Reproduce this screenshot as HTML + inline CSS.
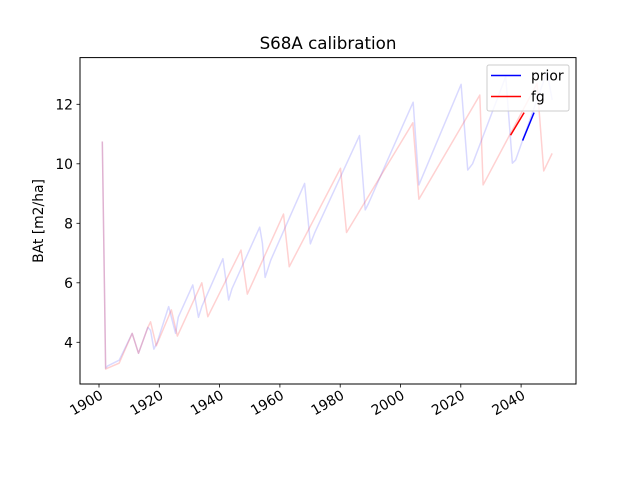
<!DOCTYPE html>
<html><head><meta charset="utf-8"><style>
body{margin:0;background:#fff;}
svg text{font-family:"DejaVu Sans","Liberation Sans",sans-serif;fill:#000;}
</style></head><body>
<svg id="chart" width="640" height="480" viewBox="0 0 640 480" xmlns="http://www.w3.org/2000/svg">
<rect width="640" height="480" fill="#fff"/>
<g id="series"></g>
<rect x="80" y="57.6" width="496" height="326.4" fill="none" stroke="#000" stroke-width="1"/>
<g id="xticks"></g><g id="yticks"></g>
<text x="328" y="49" font-size="16.7" text-anchor="middle">S68A calibration</text>
<text x="0" y="0" font-size="13.9" text-anchor="middle" transform="translate(43,221) rotate(-90)">BAt [m2/ha]</text>
<g>
<rect x="487" y="65" width="82" height="46" rx="2" fill="#fff" fill-opacity="0.8" stroke="#ccc"/>
<line x1="491" y1="75.5" x2="521" y2="75.5" stroke="#0000ff" stroke-width="1.5"/>
<text x="531" y="80.5" font-size="13.9">prior</text>
<line x1="491" y1="96.5" x2="521" y2="96.5" stroke="#ff0000" stroke-width="1.5"/>
<text x="531" y="101.5" font-size="13.9">fg</text>
</g>
</svg>
<script>
const priorYears=[1901.1,1902.2,1902.8,1906.7,1911,1913.1,1916.2,1917.1,1918.2,1919.3,1923.1,1925.4,1926.3,1931.1,1933,1934.1,1941.1,1943,1944.1,1953.3,1954.2,1955.1,1957,1968.2,1970.1,1971.5,1986.4,1988.3,1989.4,2000.6,2004.2,2006.1,2020.1,2022.3,2023.9,2034.9,2037.1,2038.2,2048.6,2050.3];
const priorVals=[10.75,3.13,3.2,3.4,4.3,3.63,4.5,4.4,3.77,4.0,5.2,4.3,4.85,5.93,4.84,5.2,6.81,5.42,5.8,7.87,7.33,6.18,6.77,9.34,7.31,7.67,10.95,8.45,8.67,11.25,12.07,9.29,12.67,9.79,10.0,12.93,10.02,10.13,13.1,12.15];
const fgYears=[1901.1,1902.2,1902.8,1906.7,1911,1913.1,1916.2,1917.1,1919,1924,1926,1934.1,1936.1,1947.1,1949.2,1961.2,1963.1,1980.1,1982.1,2004.1,2006.1,2026.3,2027.4,2045.3,2047.5,2050.3];
const fgVals=[10.75,3.1,3.13,3.3,4.3,3.63,4.5,4.69,3.88,5.09,4.21,6.0,4.86,7.1,5.62,8.31,6.54,9.85,7.69,11.38,8.81,12.31,9.29,12.7,9.76,10.35];
const priorCurYears=[2040.5,2044.3];
const priorCurVals=[10.78,11.72];
const fgCurYears=[2036.5,2041];
const fgCurVals=[10.96,11.72];
const xTickLabels=[1900,1920,1940,1960,1980,2000,2020,2040];
const yTickLabels=[4,6,8,10,12];
const NS="http://www.w3.org/2000/svg";
function xs(v){return 99+(v-1900)*3.015;}
function ys(v){return 342.3-(v-4)*29.75;}
function mk(tag,attrs,parent){const e=document.createElementNS(NS,tag);for(const k in attrs)e.setAttribute(k,attrs[k]);parent.appendChild(e);return e;}
const S=document.getElementById('series');
function line(xa,va,color,op,name){
  const p=mk('polyline',{points:xa.map((x,i)=>xs(x)+','+ys(va[i])).join(' '),fill:'none',stroke:color,'stroke-opacity':op,'stroke-width':1.5,'stroke-linejoin':'round'},S);
  
  
}
line(priorYears,priorVals,'#0000ff',0.15,'prior-history-line');
line(fgYears,fgVals,'#ff0000',0.18,'fg-history-line');
line(fgCurYears,fgCurVals,'#ff0000',1,'fg-line');
line(priorCurYears,priorCurVals,'#0000ff',1,'prior-line');
const XT=document.getElementById('xticks');
xTickLabels.forEach(v=>{
  const x=xs(v);
  const t=mk('line',{x1:x,y1:384,x2:x,y2:387.5,stroke:'#000','stroke-width':0.8},XT);
  
  
  const l=mk('text',{x:0,y:0,'font-size':13.9,'text-anchor':'end',transform:'translate('+(x+5)+',398) rotate(-30)'},XT);
  l.textContent=v;
  
  
});
const YT=document.getElementById('yticks');
yTickLabels.forEach(v=>{
  const y=ys(v);
  const t=mk('line',{x1:76.5,y1:y,x2:80,y2:y,stroke:'#000','stroke-width':0.8},YT);
  
  
  const l=mk('text',{x:73,y:y+5,'font-size':13.9,'text-anchor':'end'},YT);
  l.textContent=v;
  
  
});
</script>
</body></html>
